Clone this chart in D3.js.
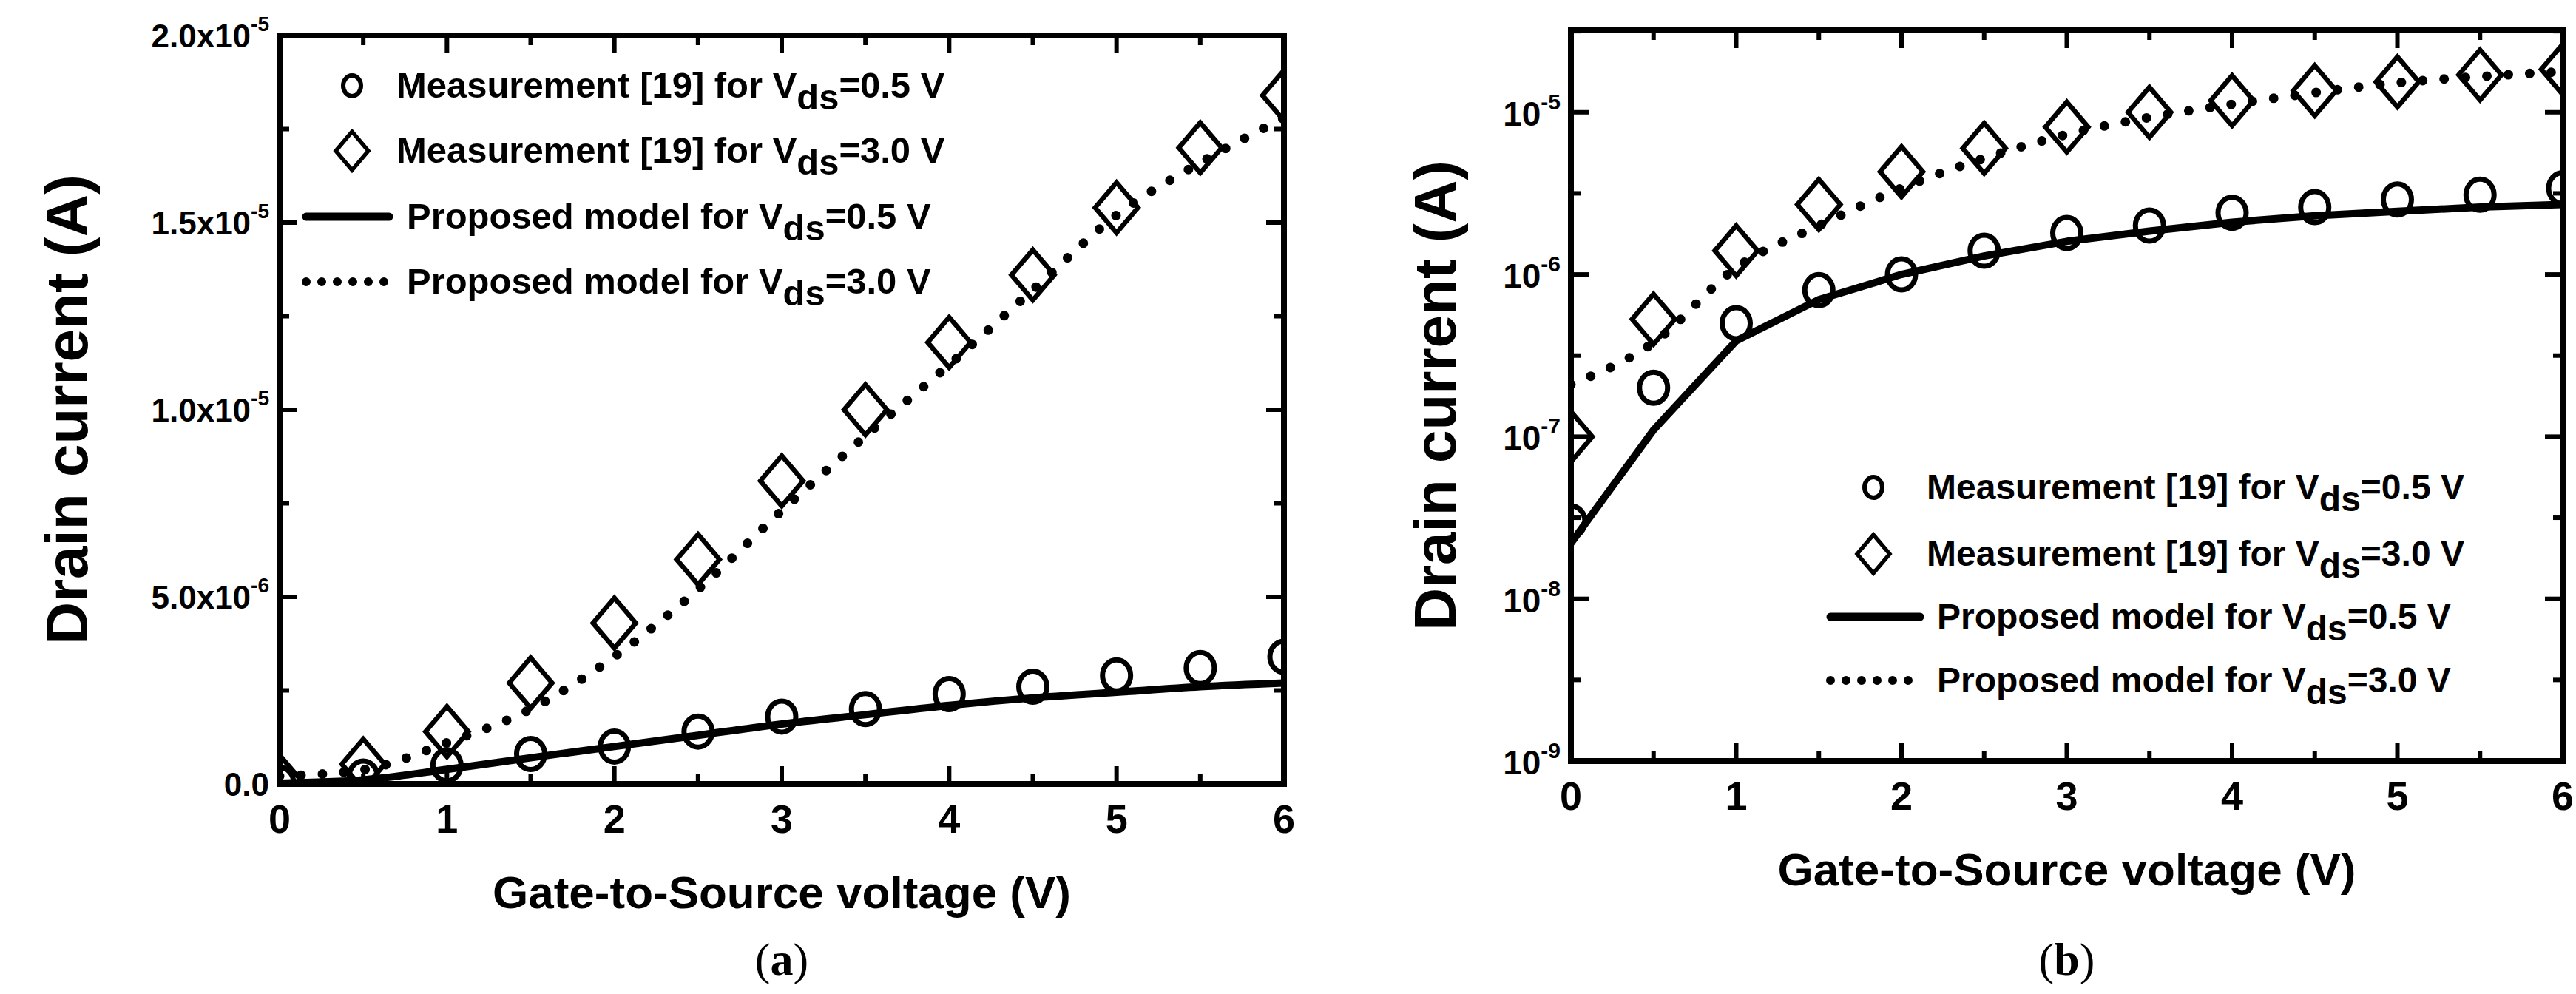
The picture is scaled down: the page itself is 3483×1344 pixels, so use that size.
<!DOCTYPE html>
<html><head><meta charset="utf-8">
<script src="https://cdn.jsdelivr.net/npm/d3@7"></script>
<style>body{margin:0;background:#fff}</style>
</head><body>
<svg id="fig" width="3483" height="1344"></svg>
<script>
// data
const vgs = [0, 0.5, 1, 1.5, 2, 2.5, 3, 3.5, 4, 4.5, 5, 5.5, 6];
const meas05 = [3e-8, 2e-7, 5e-7, 8e-7, 1.0e-6, 1.4e-6, 1.8e-6, 2.0e-6, 2.4e-6, 2.6e-6, 2.9e-6, 3.1e-6, 3.4e-6];
const meas30 = [1e-7, 5.3e-7, 1.4e-6, 2.7e-6, 4.3e-6, 6.0e-6, 8.1e-6, 1.0e-5, 1.18e-5, 1.36e-5, 1.54e-5, 1.70e-5, 1.84e-5];
const model05 = [2.2e-8, 1.1e-7, 3.9e-7, 7e-7, 1.0e-6, 1.3e-6, 1.6e-6, 1.85e-6, 2.1e-6, 2.3e-6, 2.45e-6, 2.6e-6, 2.7e-6];
const model30 = [2.1e-7, 3.8e-7, 1.1e-6, 2.0e-6, 3.4e-6, 5.2e-6, 7.3e-6, 9.3e-6, 1.12e-5, 1.32e-5, 1.52e-5, 1.66e-5, 1.78e-5];
const xTicks = [0, 1, 2, 3, 4, 5, 6];
const linTicks = [[0, "0.0", null], [5e-6, "5.0x10", "-6"], [1e-5, "1.0x10", "-5"], [1.5e-5, "1.5x10", "-5"], [2e-5, "2.0x10", "-5"]];
const logTicks = [1e-9, 1e-8, 1e-7, 1e-6, 1e-5];
const legendLabels = ["Measurement [19] for V", "Measurement [19] for V", "Proposed model for V", "Proposed model for V"];
const legendTails = ["=0.5 V", "=3.0 V", "=0.5 V", "=3.0 V"];

const svg = d3.select("#fig");
const FONT = "'Liberation Sans',Arial,sans-serif";

// diamond outline with separate half width / half height
const diamond = (w, h) => `M0,${-h}L${w},0L0,${h}L${-w},0Z`;

function panel(o) {
  const g = svg.append("g");
  const x = d3.scaleLinear().domain([0, 6]).range([o.left, o.right]);
  const y = o.log
    ? d3.scaleLog().domain([1e-9, 3.2e-5]).range([o.bottom, o.top])
    : d3.scaleLinear().domain([0, 2e-5]).range([o.bottom, o.top]);

  const clip = "clip" + o.id;
  svg.append("clipPath").attr("id", clip).append("rect")
    .attr("x", o.left).attr("y", o.top).attr("width", o.right - o.left).attr("height", o.bottom - o.top);
  const plot = g.append("g").attr("clip-path", `url(#${clip})`);

  // ticks (inward, all four sides)
  const tk = g.append("g").attr("stroke", "#000").attr("stroke-width", 6);
  d3.range(0, 6.01, 0.5).forEach(v => {
    const L = v % 1 === 0 ? 24 : 13;
    tk.append("line").attr("x1", x(v)).attr("x2", x(v)).attr("y1", o.bottom).attr("y2", o.bottom - L);
    tk.append("line").attr("x1", x(v)).attr("x2", x(v)).attr("y1", o.top).attr("y2", o.top + L);
  });
  const yt = o.log ? logTicks.concat(logTicks.map(d => d * Math.sqrt(10)))
                   : d3.range(0, 2.01e-5, 2.5e-6);
  yt.forEach(v => {
    if (y(v) < o.top) return;
    const major = o.log ? logTicks.includes(v) : Math.abs((v / 5e-6) - Math.round(v / 5e-6)) < 1e-6;
    const L = major ? 24 : 13;
    tk.append("line").attr("y1", y(v)).attr("y2", y(v)).attr("x1", o.left).attr("x2", o.left + L);
    tk.append("line").attr("y1", y(v)).attr("y2", y(v)).attr("x1", o.right).attr("x2", o.right - L);
  });

  // x tick labels
  g.selectAll(".xl").data(xTicks).join("text")
    .attr("x", d => x(d)).attr("y", o.bottom + 66).attr("text-anchor", "middle")
    .attr("font-family", FONT).attr("font-weight", "bold").attr("font-size", 54).text(d => d);

  // y tick labels
  if (o.log) {
    logTicks.forEach(v => {
      const t = g.append("text").attr("x", o.left - 14).attr("y", y(v) + 18).attr("text-anchor", "end")
        .attr("font-family", FONT).attr("font-weight", "bold").attr("font-size", 46);
      t.append("tspan").text("10");
      t.append("tspan").attr("font-size", 30).attr("dy", -22).text(String(Math.round(Math.log10(v))));
    });
  } else {
    linTicks.forEach(([v, a, e]) => {
      const t = g.append("text").attr("x", o.left - 14).attr("y", y(v) + 16).attr("text-anchor", "end")
        .attr("font-family", FONT).attr("font-weight", "bold").attr("font-size", 44);
      t.append("tspan").text(a);
      if (e) t.append("tspan").attr("font-size", 28).attr("dy", -22).text(e);
    });
  }

  // axis titles
  g.append("text").attr("transform", `translate(${o.ytx},${(o.top + o.bottom) / 2}) rotate(-90)`)
    .attr("text-anchor", "middle").attr("font-family", FONT).attr("font-weight", "bold").attr("font-size", 80)
    .text("Drain current (A)");
  g.append("text").attr("x", (o.left + o.right) / 2).attr("y", o.bottom + 168).attr("text-anchor", "middle")
    .attr("font-family", FONT).attr("font-weight", "bold").attr("font-size", 62)
    .text("Gate-to-Source voltage (V)");
  g.append("text").attr("x", (o.left + o.right) / 2).attr("y", o.caption).attr("text-anchor", "middle")
    .attr("font-family", "'Liberation Serif','Times New Roman',serif").attr("font-size", 62)
    .html(`(<tspan font-weight="bold">${o.id}</tspan>)`);

  // curves
  const line = d3.line().x((d, i) => x(vgs[i])).y(d => y(d)).curve(d3.curveMonotoneX);
  const line05 = o.log ? d3.line().x((d, i) => x(vgs[i])).y(d => y(d)) : line;
  plot.append("path").attr("d", line05(model05)).attr("fill", "none").attr("stroke", "#000").attr("stroke-width", 10);
  plot.append("path").attr("d", line(model30)).attr("fill", "none").attr("stroke", "#000")
    .attr("stroke-width", 13).attr("stroke-linecap", "round").attr("stroke-dasharray", "0 29");

  // markers
  plot.selectAll(".c").data(meas05).join("ellipse")
    .attr("cx", (d, i) => x(vgs[i])).attr("cy", d => y(d)).attr("rx", 19).attr("ry", 21)
    .attr("fill", "none").attr("stroke", "#000").attr("stroke-width", 7);
  plot.selectAll(".d").data(meas30).join("path")
    .attr("transform", (d, i) => `translate(${x(vgs[i])},${y(d)})`)
    .attr("d", diamond(29, 34)).attr("fill", "none").attr("stroke", "#000").attr("stroke-width", 6.5);

  // frame
  g.append("rect").attr("x", o.left).attr("y", o.top).attr("width", o.right - o.left).attr("height", o.bottom - o.top)
    .attr("fill", "none").attr("stroke", "#000").attr("stroke-width", 8);

  // legend
  const lg = g.append("g");
  o.rows.forEach((ry, i) => {
    if (i === 0) lg.append("ellipse").attr("cx", o.mx).attr("cy", ry).attr("rx", 12).attr("ry", 14)
      .attr("fill", "none").attr("stroke", "#000").attr("stroke-width", 6);
    if (i === 1) lg.append("path").attr("transform", `translate(${o.mx},${ry})`)
      .attr("d", diamond(22, 26)).attr("fill", "none").attr("stroke", "#000").attr("stroke-width", 5.5);
    if (i === 2) lg.append("line").attr("x1", o.lx1).attr("x2", o.lx2).attr("y1", ry).attr("y2", ry)
      .attr("stroke", "#000").attr("stroke-width", 11).attr("stroke-linecap", "round");
    if (i === 3) lg.append("line").attr("x1", o.lx1).attr("x2", o.lx2).attr("y1", ry).attr("y2", ry)
      .attr("stroke", "#000").attr("stroke-width", 12).attr("stroke-linecap", "round").attr("stroke-dasharray", "0 21");
    const t = lg.append("text")
      .attr("transform", `translate(${i < 2 ? o.tx : o.tx + 14},${ry + 16}) scale(${o.sx},1)`)
      .attr("font-family", FONT).attr("font-weight", "bold").attr("font-size", 48);
    t.append("tspan").text(legendLabels[i]);
    t.append("tspan").attr("dy", 16).text("ds");
    t.append("tspan").attr("dy", -16).text(legendTails[i]);
  });
}

panel({ id: "a", log: false, left: 378, right: 1736, top: 48, bottom: 1060, ytx: 118, caption: 1318,
  rows: [116, 204, 293, 381], mx: 476, tx: 536, lx1: 414, lx2: 526, sx: 1.02 });
panel({ id: "b", log: true, left: 2124, right: 3465, top: 41, bottom: 1029, ytx: 1968, caption: 1318,
  rows: [659, 749, 834, 920], mx: 2533, tx: 2605, lx1: 2475, lx2: 2596, sx: 1.0 });
</script>
</body></html>
